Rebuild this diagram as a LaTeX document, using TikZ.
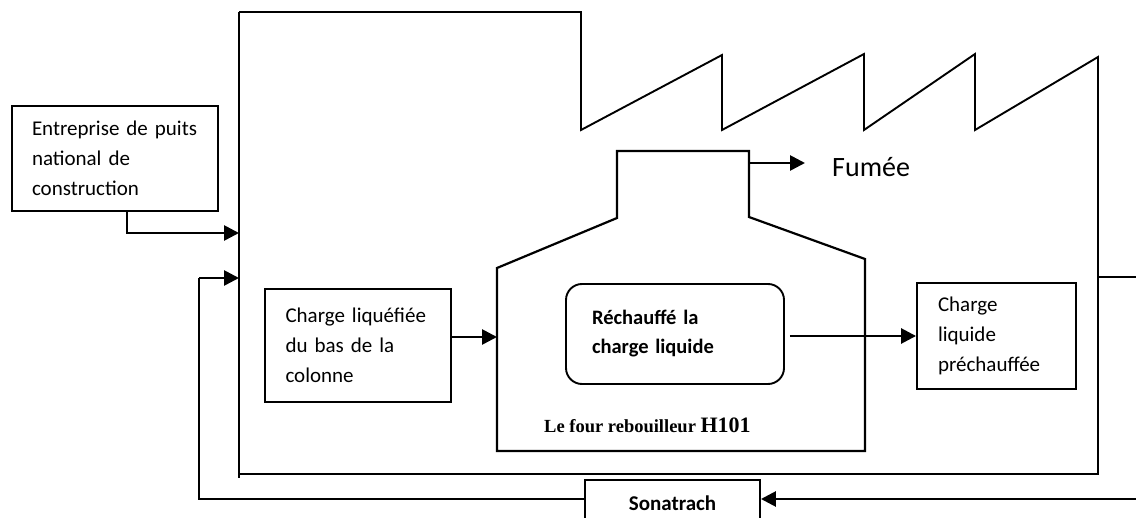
\documentclass[tikz,border=0pt]{standalone}
\usepackage{fontspec}
\setmainfont{Carlito}
\newfontfamily\timesbf{Liberation Serif}
\usetikzlibrary{arrows.meta}
\begin{document}
\begin{tikzpicture}[x=1pt,y=-1pt,
  outline/.style={line width=1.9pt,line join=miter},
  arr/.style={line width=2.7pt,-{Triangle[length=15pt,width=15pt]}},
  flow/.style={line width=2.7pt},
  txtbox/.style={draw,line width=1.9pt,align=left,inner ysep=0pt,
    font=\fontsize{21}{30}\selectfont},
  lbl/.style={inner sep=0pt}]
\clip (0,0) rectangle (1136,518);
\fill[white] (0,0) rectangle (1136,518);

% factory building with saw-tooth roof
\draw[outline] (239,478) -- (239,12);
\draw[outline] (239,12) -- (581,12) -- (581,130) -- (722,55) -- (722,130)
  -- (864,54) -- (864,130) -- (975,54) -- (975,130) -- (1098,57)
  -- (1098,474) -- (239,474);
\draw[outline] (1098,277) -- (1136,277);
\coordinate (wallA) at (239,233);
\coordinate (wallB) at (239,278);

% furnace with its chimney
\draw[outline,line width=2.2pt] (497,451) -- (497,268) -- (617,218) -- (617,151) -- (749,151)
  -- (749,217) -- (865,259) -- (865,451) -- cycle;
\coordinate (fin) at (497,337);
\coordinate (chimR) at (749,163);

% boxes
\node[txtbox,text width=166pt,inner xsep=20pt,minimum height=105pt] (ent)
  at (115,158.5) {Entreprise de puits\\national de\\construction};
\node[txtbox,text width=145pt,inner xsep=20.5pt,minimum height=113pt] (cliq)
  at (358,345.5) {Charge liquéfiée\\du bas de la\\colonne};
\node[txtbox,text width=117pt,inner xsep=21pt,minimum height=106pt] (prec)
  at (996.5,336) {Charge\\liquide\\préchauffée};
\node[txtbox,rounded corners=16pt,text width=166pt,inner xsep=26pt,
  minimum height=100pt,font=\fontsize{20.5}{29}\selectfont\bfseries] (heat)
  at (675,334) {Réchauffé la\\charge liquide};
\node[draw,line width=1.9pt,anchor=north,minimum width=175pt,inner ysep=15pt,
  text height=16pt,text depth=5pt,font=\fontsize{21}{25}\selectfont\bfseries]
  (sona) at (672.5,479) {Sonatrach};

% labels
\node[lbl,anchor=base west,font=\fontsize{28}{32}\selectfont] (fumee)
  at (832,177) {Fumée};
\node[lbl,anchor=base west] (four) at (544,433)
  {\timesbf\bfseries\fontsize{18.5}{22}\selectfont Le four rebouilleur
   \fontsize{22}{26}\selectfont H101};

% flows
\draw[arr] ([xshift=12pt]ent.south) |- (wallA);
\draw[arr] (cliq.east |- fin) -- (fin);
\draw[arr] ([xshift=5pt]heat.east |- prec.west) -- (prec.west);
\draw[arr] (chimR) -- ([xshift=-27pt]fumee.west |- chimR);
\coordinate (rt) at (1136,499);
\coordinate (lt) at (199,499);
\draw[arr] (rt) -- (rt -| sona.east);
\draw[flow] (sona.west |- lt) -- (lt) -- (lt |- wallB);
\draw[arr] (lt |- wallB) -- (wallB);
\end{tikzpicture}
\end{document}
